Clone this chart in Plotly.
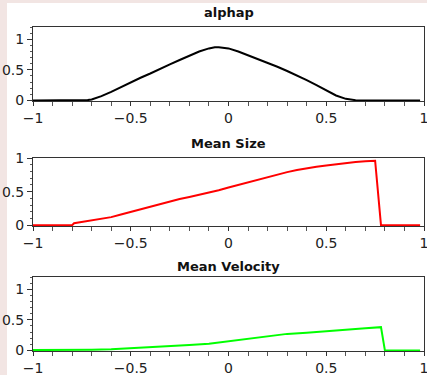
import plotly.graph_objects as go
from plotly.subplots import make_subplots

# ---- data ----
alpha_x = [-1.0, -0.9, -0.8, -0.75, -0.72, -0.7, -0.65, -0.6, -0.55, -0.5, -0.45, -0.4, -0.35, -0.3,
           -0.25, -0.2, -0.15, -0.1, -0.07, -0.05, 0.0, 0.05, 0.1, 0.15, 0.2, 0.25, 0.3, 0.35,
           0.4, 0.45, 0.5, 0.55, 0.6, 0.65, 0.7, 0.8, 0.9, 0.98]
alpha_y = [0.0, 0.0, 0.0, 0.0, 0.005, 0.015, 0.07, 0.14, 0.22, 0.30, 0.37, 0.44, 0.52, 0.59,
           0.66, 0.73, 0.80, 0.85, 0.87, 0.87, 0.85, 0.80, 0.74, 0.68, 0.61, 0.55, 0.48, 0.41,
           0.33, 0.25, 0.16, 0.08, 0.025, 0.003, 0.0, 0.0, 0.0, 0.0]

size_x = [-1.0, -0.9, -0.8, -0.79, -0.75, -0.7, -0.65, -0.6, -0.55, -0.5, -0.45, -0.4, -0.35, -0.3,
          -0.25, -0.2, -0.15, -0.1, -0.05, 0.0, 0.05, 0.1, 0.15, 0.2, 0.25, 0.3, 0.35, 0.4,
          0.45, 0.5, 0.55, 0.6, 0.65, 0.7, 0.75, 0.78, 0.85, 0.9, 0.98]
size_y = [0.0, 0.0, 0.0, 0.03, 0.05, 0.07, 0.09, 0.12, 0.16, 0.20, 0.24, 0.28, 0.32, 0.36,
          0.39, 0.42, 0.45, 0.48, 0.52, 0.56, 0.60, 0.64, 0.68, 0.72, 0.76, 0.79, 0.82, 0.85,
          0.87, 0.89, 0.91, 0.93, 0.94, 0.95, 0.96, 0.0, 0.0, 0.0, 0.0]

vel_x = [-1.0, -0.9, -0.8, -0.7, -0.6, -0.5, -0.4, -0.3, -0.2, -0.1, 0.0, 0.1, 0.2, 0.3,
         0.4, 0.5, 0.6, 0.7, 0.78, 0.8, 0.9, 0.98]
vel_y = [0.005, 0.005, 0.008, 0.012, 0.02, 0.035, 0.05, 0.07, 0.09, 0.11, 0.15, 0.20, 0.24, 0.27,
         0.29, 0.31, 0.33, 0.36, 0.38, 0.0, 0.0, 0.0]

titles = ["alphap", "Mean Size", "Mean Velocity"]
x_ticks = [-1, -0.5, 0, 0.5, 1]
x_ticktext = ["\u22121", "\u22120.5", "0", "0.5", "1"]
y_ticks = [0, 0.5, 1]
y_ticktext = ["0", "0.5", "1"]

W, H = 427, 375
L, R = 33, 3

fig = make_subplots(rows=3, cols=1)
series = [(alpha_x, alpha_y, "#000000"), (size_x, size_y, "#ff0000"), (vel_x, vel_y, "#00ff00")]
for i, (xs, ys, c) in enumerate(series):
    fig.add_trace(go.Scatter(x=xs, y=ys, mode="lines", line=dict(color=c, width=2),
                             showlegend=False, hoverinfo="skip"), row=i + 1, col=1)

panels = [(27, 101, [-0.01, 1.2]), (158, 226, [-0.012, 1.0]), (277, 351, [-0.01, 1.2])]
font = dict(family="DejaVu Sans", size=14, color="#222222")
ann = []
title_y = [12, 143, 266]
for i, (top, bot, yr) in enumerate(panels):
    dom = [1 - bot / H, 1 - top / H]
    fig.update_yaxes(domain=dom, range=yr, row=i + 1, col=1, automargin=False,
                     tickvals=y_ticks, ticktext=y_ticktext, ticks="outside", ticklen=5,
                     tickcolor="#333333", showline=True, linecolor="#333333", linewidth=1,
                     mirror=True, showgrid=False, zeroline=False, tickfont=font,
                     ticklabeloverflow="allow",
                     minor=dict(dtick=0.1, ticks="outside", ticklen=2, tickcolor="#555555"))
    fig.update_xaxes(range=[-1, 1], row=i + 1, col=1, automargin=False,
                     tickvals=x_ticks, ticktext=x_ticktext, ticks="outside", ticklen=4,
                     tickcolor="#333333", showline=True, linecolor="#333333", linewidth=1,
                     mirror=True, showgrid=False, zeroline=False, tickfont=font,
                     ticklabeloverflow="allow",
                     minor=dict(dtick=0.1, ticks="outside", ticklen=4, tickcolor="#555555"))
    ann.append(dict(text="<b>" + titles[i] + "</b>", x=0.5, xref="paper", xanchor="center",
                    y=1 - title_y[i] / H, yref="paper", yanchor="middle", showarrow=False,
                    font=dict(family="DejaVu Sans", size=13, color="#111111")))

pw = W - L - R
fig.update_layout(
    width=W, height=H,
    margin=dict(l=L, r=R, t=0, b=0, pad=0, autoexpand=False),
    paper_bgcolor="#f2e5e3", plot_bgcolor="#ffffff",
    annotations=ann,
    shapes=[dict(type="rect", xref="paper", yref="paper", layer="below",
                 x0=(7 - L) / pw, x1=(W + 5 - L) / pw, y0=-0.05, y1=1 - 3 / H,
                 fillcolor="#ffffff", line=dict(width=0))],
)
fig.write_html("out.html", config={"displayModeBar": False},
               post_script="document.body.style.margin='0';document.body.style.background='#f2e5e3';")
